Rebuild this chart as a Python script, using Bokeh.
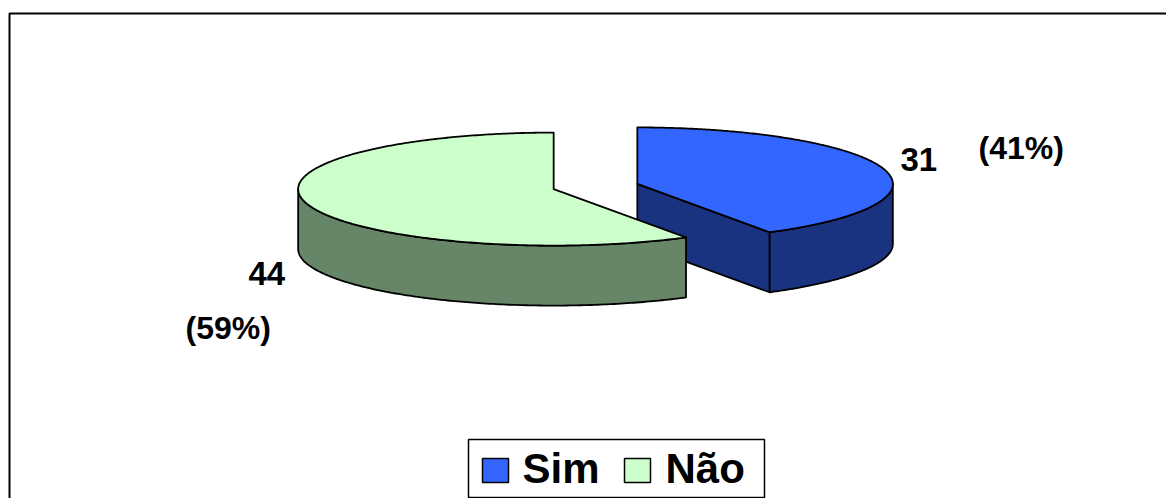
import numpy as np
from bokeh.plotting import figure
from bokeh.models import ColumnDataSource, Range1d
from bokeh.core.properties import value
from bokeh.embed import file_html
from bokeh.resources import INLINE

# ---- data ----
categories = ["Sim", "Não"]
counts = [31, 44]
top_colors = ["#3366FF", "#CCFFCC"]
side_colors = ["#1A3380", "#678667"]

total = sum(counts)
count_labels = [str(c) for c in counts]
pct_labels = [f"({round(c / total * 100)}%)" for c in counts]

# ---- layout constants ----
W, H = 1166, 498
CX, CY = 595.0, 186.0
RX, RY = 255.5, 56.5
DEPTH = 60.0
EXPLODE = 0.17
FONT = value("Liberation Sans")

p = figure(width=W, height=H, x_range=Range1d(0, W), y_range=Range1d(H, 0),
           output_backend="svg", toolbar_location=None, min_border=0,
           x_axis_type=None, y_axis_type=None)
p.grid.visible = False
p.outline_line_color = None
p.background_fill_color = "white"
p.border_fill_color = "white"

# outer chart frame (extends past the window right/bottom)
p.line(x=[9, 9, W + 20], y=[H + 20, 13, 13], line_color="black", line_width=2)


def rim(cx, cy, angles, dz=0.0):
    t = np.radians(angles)
    return cx + RX * np.cos(t), cy - RY * np.sin(t) + dz


fracs = np.array(counts, dtype=float) / total
a0s = 90 - 360 * np.concatenate([[0.0], np.cumsum(fracs)[:-1]])
a1s = a0s - 360 * fracs

slices = []
for i in range(len(counts)):
    a0, a1 = a0s[i], a1s[i]
    mid = np.radians((a0 + a1) / 2)
    cx = CX + EXPLODE * RX * np.cos(mid)
    cy = CY - EXPLODE * RY * np.sin(mid)
    slices.append((cy, i, cx, a0, a1))
slices.sort()

xs, ys, fills = [], [], []
for cy, i, cx, a0, a1 in slices:
    # radial faces
    for a, normal in ((a1, a1 - 90), (a0, a0 + 90)):
        if np.sin(np.radians(normal)) < -1e-6:
            rx_, ry_ = rim(cx, cy, [a])
            xs.append([cx, rx_[0], rx_[0], cx])
            ys.append([cy, ry_[0], ry_[0] + DEPTH, cy + DEPTH])
            fills.append(side_colors[i])
    # outer curved side (front half only)
    lo, hi = max(a1, -180.0), min(a0, 0.0)
    if hi > lo:
        ang = np.linspace(hi, lo, 160)
        tx, ty = rim(cx, cy, ang)
        bx, by = rim(cx, cy, ang[::-1], DEPTH)
        xs.append(list(tx) + list(bx))
        ys.append(list(ty) + list(by))
        fills.append(side_colors[i])
    # top face
    ang = np.linspace(a0, a1, 300)
    tx, ty = rim(cx, cy, ang)
    xs.append([cx] + list(tx))
    ys.append([cy] + list(ty))
    fills.append(top_colors[i])

src = ColumnDataSource(dict(xs=xs, ys=ys, fill=fills))
p.patches("xs", "ys", source=src, fill_color="fill", line_color="black",
          line_width=1.8, line_join="round")

# ---- data labels ----
lab_cnt_x = [900, 248]
lab_cnt_y = [159, 273]
lab_pct_x = [978, 185]
lab_pct_y = [147, 327]
p.text(x=lab_cnt_x, y=lab_cnt_y, text=count_labels, text_font=FONT,
       text_font_style="bold", text_font_size="33px", text_color="black",
       text_baseline="alphabetic", text_align="left")
p.text(x=lab_pct_x, y=lab_pct_y, text=pct_labels, text_font=FONT,
       text_font_style="bold", text_font_size="32px", text_color="black",
       text_baseline="alphabetic", text_align="left")

# ---- legend ----
p.quad(left=[468], right=[764], top=[439], bottom=[497], fill_color="white",
       line_color="black", line_width=1.5)
sq_x = [482, 624]
p.quad(left=sq_x, right=[x + 26 for x in sq_x], top=[458] * 2, bottom=[482] * 2,
       fill_color=top_colors, line_color="black", line_width=1.5)
p.text(x=[522, 665], y=[468, 468], text=categories, text_font=FONT,
       text_font_style="bold", text_font_size="42px", text_color="black",
       text_baseline="alphabetic", text_align="left")

open("out.html", "w").write(file_html(p, INLINE))
